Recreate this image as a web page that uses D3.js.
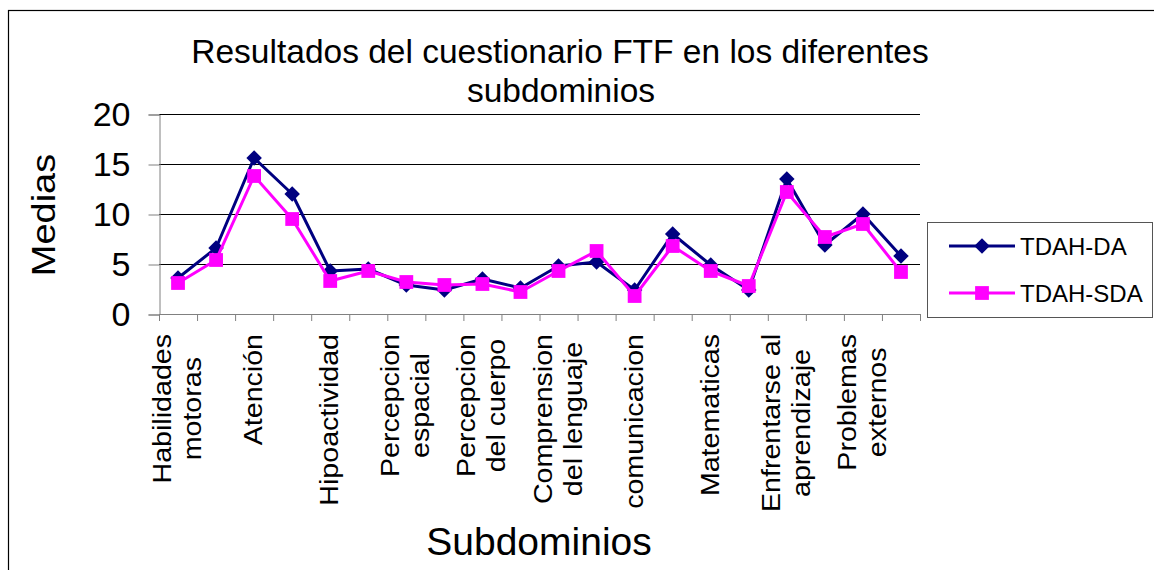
<!DOCTYPE html>
<html>
<head>
<meta charset="utf-8">
<script src="https://cdn.jsdelivr.net/npm/d3@7"></script>
<style>
  body { margin: 0; background: #fff; }
  text { font-family: "Liberation Sans", Arial, sans-serif; fill: #000; }
</style>
</head>
<body>
<div id="chart"></div>
<script>
// category labels (only every other category carries a visible label)
const categories = [
  ["Habilidades", "motoras"], [], ["Atención"], [], ["Hipoactividad"], [],
  ["Percepcion", "espacial"], [], ["Percepcion", "del cuerpo"], [],
  ["Comprension", "del lenguaje"], [], ["comunicacion"], [], ["Matematicas"], [],
  ["Enfrentarse al", "aprendizaje"], [], ["Problemas", "externos"], []
];
const tdahDA  = [3.6, 6.6, 15.6, 12.0, 4.3, 4.5, 2.9, 2.4, 3.5, 2.6, 4.8, 5.2, 2.4, 8.0, 4.9, 2.4, 13.5, 6.9, 10.0, 5.8];
const tdahSDA = [3.1, 5.4, 13.8, 9.5, 3.3, 4.3, 3.2, 2.9, 3.0, 2.2, 4.3, 6.3, 1.8, 6.8, 4.3, 2.8, 12.2, 7.7, 9.0, 4.2];
const yTicks = [0, 5, 10, 15, 20];

const W = 1154, H = 570;
const plot = {left: 159, right: 920, top: 114, bottom: 314};

const svg = d3.select("#chart")
  .append("svg")
  .attr("width", W)
  .attr("height", H);

// outer chart border (runs off the right/bottom edge)
svg.append("rect")
  .attr("x", 8.5).attr("y", 10.5)
  .attr("width", 1160).attr("height", 600)
  .attr("fill", "none")
  .attr("stroke", "#000")
  .attr("stroke-width", 1.2);

const x = d3.scaleBand()
  .domain(d3.range(categories.length))
  .range([plot.left, plot.right])
  .padding(0);
const y = d3.scaleLinear().domain([0, 20]).range([plot.bottom, plot.top]);
const cx = i => x(i) + x.bandwidth() / 2;

// gridlines
svg.append("g")
  .selectAll("line")
  .data(yTicks.filter(d => d > 0))
  .enter()
  .append("line")
  .attr("x1", plot.left).attr("x2", plot.right)
  .attr("y1", d => y(d) + 0.5).attr("y2", d => y(d) + 0.5)
  .attr("stroke", "#000");

// y axis
const yAxis = svg.append("g")
  .attr("transform", `translate(${plot.left + 0.5},0.5)`)
  .call(d3.axisLeft(y).tickValues(yTicks).tickSize(11).tickPadding(18));
yAxis.select(".domain").attr("stroke", "#808080");
yAxis.selectAll(".tick line").attr("stroke", "#808080");
yAxis.selectAll(".tick text")
  .style("font-size", "34px")
  .style("font-family", '"Liberation Sans", Arial, sans-serif');

// x axis baseline and tick marks at category boundaries
svg.append("line")
  .attr("x1", plot.left).attr("x2", plot.right)
  .attr("y1", plot.bottom + 0.5).attr("y2", plot.bottom + 0.5)
  .attr("stroke", "#808080");
svg.append("g")
  .selectAll("line")
  .data(d3.range(categories.length + 1))
  .enter()
  .append("line")
  .attr("x1", d => (d < categories.length ? x(d) : plot.right) + 0.5)
  .attr("x2", d => (d < categories.length ? x(d) : plot.right) + 0.5)
  .attr("y1", plot.bottom)
  .attr("y2", plot.bottom + 7)
  .attr("stroke", "#808080");

// rotated category labels
const labelTop = 334, stretch = 1.1;
categories.forEach((lines, i) => {
  if (!lines.length) return;
  const g = svg.append("g")
    .attr("transform", `translate(${cx(i)},${labelTop}) rotate(-90) scale(${stretch},1)`);
  const texts = lines.map(t => g.append("text").text(t).style("font-size", "26px"));
  const maxLen = d3.max(texts, t => t.node().getComputedTextLength());
  const offs = lines.length === 1 ? [8] : [-7, 23];
  texts.forEach((t, k) => {
    t.attr("text-anchor", "middle")
      .attr("x", -maxLen / 2)
      .attr("y", offs[k]);
  });
});

// series
const series = [
  {name: "TDAH-DA", values: tdahDA, color: "#000080", rot: 45, size: 120},
  {name: "TDAH-SDA", values: tdahSDA, color: "#FF00FF", rot: 0, size: 190}
];
const line = d3.line().x((d, i) => cx(i)).y(d => y(d));

series.forEach(s => {
  svg.append("path")
    .datum(s.values)
    .attr("fill", "none")
    .attr("stroke", s.color)
    .attr("stroke-width", 3)
    .attr("stroke-linejoin", "round")
    .attr("d", line);
  svg.append("g")
    .selectAll("path")
    .data(s.values)
    .enter()
    .append("path")
    .attr("transform", (d, i) => `translate(${cx(i)},${y(d)}) rotate(${s.rot})`)
    .attr("d", d3.symbol().type(d3.symbolSquare).size(s.size))
    .attr("fill", s.color);
});

// title
svg.append("text")
  .attr("x", 560).attr("y", 63)
  .attr("text-anchor", "middle")
  .style("font-size", "33.5px")
  .text("Resultados del cuestionario FTF en los diferentes");
svg.append("text")
  .attr("x", 561).attr("y", 102)
  .attr("text-anchor", "middle")
  .style("font-size", "33.5px")
  .text("subdominios");

// axis titles
svg.append("text")
  .attr("transform", `translate(55,215) rotate(-90) scale(1.15,1)`)
  .attr("text-anchor", "middle")
  .style("font-size", "33px")
  .text("Medias");
svg.append("text")
  .attr("x", 539).attr("y", 555)
  .attr("text-anchor", "middle")
  .style("font-size", "39px")
  .text("Subdominios");

// legend
const legend = svg.append("g");
legend.append("rect")
  .attr("x", 927.5).attr("y", 222.5)
  .attr("width", 225).attr("height", 95)
  .attr("fill", "#fff")
  .attr("stroke", "#555");
series.forEach((s, k) => {
  const ly = 246 + k * 47;
  legend.append("line")
    .attr("x1", 949).attr("x2", 1015)
    .attr("y1", ly).attr("y2", ly)
    .attr("stroke", s.color).attr("stroke-width", 3);
  legend.append("path")
    .attr("transform", `translate(982,${ly}) rotate(${s.rot})`)
    .attr("d", d3.symbol().type(d3.symbolSquare).size(s.size))
    .attr("fill", s.color);
  legend.append("text")
    .attr("x", 1020).attr("y", ly + 9)
    .style("font-size", "24px")
    .text(s.name);
});
</script>
</body>
</html>
